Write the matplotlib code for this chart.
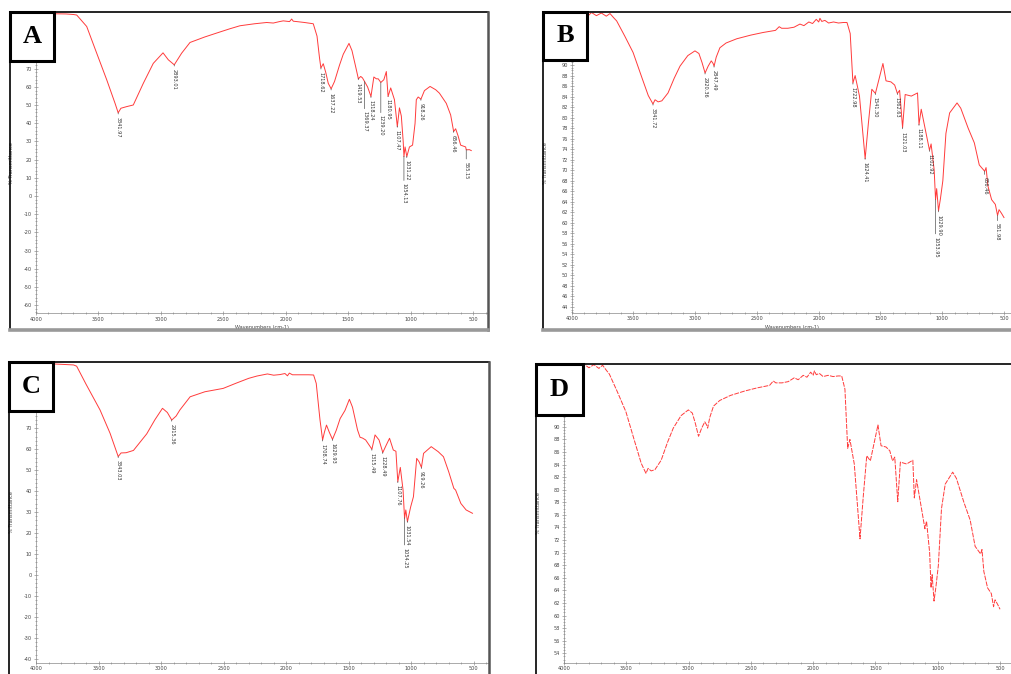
import numpy as np
import matplotlib
matplotlib.use('Agg')
from matplotlib import pyplot as plt
from matplotlib.lines import Line2D
from matplotlib.patches import Rectangle
from matplotlib.ticker import MultipleLocator

plt.rcParams['axes.unicode_minus'] = False

# ---- spectrum A ----
wn_a = [3990, 3900, 3850, 3760, 3700, 3674, 3594, 3514, 3434, 3367, 3342, 3320, 3274, 3221,
        3141, 3061, 2983, 2941, 2893, 2834, 2767, 2650, 2553, 2450, 2367, 2250, 2153, 2100,
        2050, 2020, 1970, 1953, 1940, 1912, 1850, 1780, 1750, 1730, 1719, 1700, 1680, 1660,
        1637, 1610, 1570, 1540, 1494, 1470, 1440, 1419, 1400, 1386, 1369, 1345, 1318, 1295,
        1275, 1260, 1239, 1215, 1195, 1181, 1160, 1130, 1107, 1090, 1075, 1060, 1054, 1045,
        1031, 1010, 985, 965, 955, 940, 918, 890, 845, 800, 770, 715, 680, 656, 640, 620,
        600, 560, 555, 530, 515]
t_a = [100.2, 100.5, 100.3, 100.2, 99.9, 99.6, 93.3, 78.6, 64, 51, 45.8, 48.3, 49.2, 50.1,
       62, 73, 78.8, 75, 72.2, 78.6, 84.5, 87.5, 89.7, 92, 93.7, 94.8, 95.5, 95.2,
       96.0, 96.4, 96.0, 97.4, 96.2, 96, 95.5, 94.8, 88, 76, 70.5, 72.8, 68, 62,
       59, 63, 72, 78, 84, 80, 71, 64.5, 65.8, 65, 63, 60, 54.8, 65.5,
       64.5, 64.5, 62.5, 64, 68.5, 54.8, 59.5, 53, 38.2, 48.5, 44, 30, 21.7, 27,
       21.7, 27, 28, 40, 53, 54.5, 53.3, 58, 60.3, 58.5, 56.6, 51, 44.6, 35.5, 37, 33,
       28, 27, 25.4, 25.5, 25]
peaks_a = ['3341.97', '2893.01', '1718.62', '1637.22', '1419.53', '1369.37', '1318.24',
           '1239.20', '1180.95', '1107.47', '1054.13', '1031.22', '918.26', '656.46', '555.15']

# ---- spectrum B (also shown unlabelled in D) ----
wn_b = [3990, 3960, 3930, 3900, 3870, 3840, 3800, 3760, 3720, 3690, 3660, 3636, 3570, 3503,
        3430, 3380, 3342, 3325, 3300, 3270, 3220, 3170, 3123, 3060, 3002, 2970, 2945, 2920,
        2895, 2870, 2855, 2847, 2830, 2800, 2750, 2664, 2550, 2450, 2350, 2320, 2300, 2250,
        2200, 2152, 2120, 2080, 2050, 2020, 2000, 1990, 1975, 1950, 1920, 1880, 1840, 1800,
        1771, 1745, 1723, 1705, 1670, 1624, 1598, 1570, 1541, 1480, 1455, 1415, 1385, 1363,
        1345, 1321, 1300, 1250, 1200, 1188, 1170, 1103, 1090, 1065, 1054, 1045, 1030, 1015,
        995, 970, 940, 880, 850, 790, 740, 700, 656, 645, 630, 600, 570, 552, 540, 520, 500]
t_b = [99.5, 100, 99.2, 99.8, 99.3, 100, 99.4, 99.9, 99.3, 99.8, 99.0, 98.4, 95.5, 92.4,
       87.5, 84.2, 82.6, 83.4, 83.0, 83.2, 84.7, 87.5, 89.8, 91.8, 92.7, 92.2, 90.5, 88.5,
       89.8, 90.8, 90.3, 89.8, 91.5, 93.3, 94.2, 95.0, 95.7, 96.2, 96.6, 97.3, 97.0, 97.0,
       97.2, 97.8, 97.5, 98.2, 97.9, 98.7, 98.2, 98.9, 98.3, 98.5, 98.0, 98.2, 98.0, 98.1,
       98.1, 96, 86.6, 88, 84.1, 72.2, 78.9, 85.4, 84.6, 90.3, 87, 86.8, 86.2, 84.6,
       85.2, 78.1, 84.4, 84.1, 84.7, 78.7, 81.6, 73.8, 75, 70, 64.4, 66.5, 62.3, 64.5,
       68, 77, 80.9, 82.8, 81.8, 78, 75.2, 71, 69.8, 70.5, 67, 64.4, 63.5, 61.4, 62.5, 61.8, 61]
peaks_b = ['3341.72', '2920.36', '2847.49', '1722.98', '1624.41', '1541.30', '1362.63',
           '1321.03', '1188.11', '1102.92', '1053.95', '1029.90', '656.46', '551.98']

# ---- spectrum C ----
wn_c = [3990, 3900, 3800, 3700, 3675, 3600, 3488, 3408, 3343, 3320, 3280, 3221, 3115, 3050,
        2989, 2950, 2915, 2880, 2850, 2768, 2650, 2504, 2400, 2300, 2234, 2150, 2100, 2050,
        2010, 1990, 1975, 1950, 1900, 1820, 1781, 1760, 1730, 1709, 1695, 1678, 1655, 1630,
        1600, 1569, 1530, 1495, 1470, 1430, 1410, 1390, 1365, 1315, 1300, 1290, 1258, 1228,
        1200, 1174, 1144, 1123, 1108, 1088, 1066, 1054, 1044, 1031, 1005, 983, 957, 938, 919,
        902, 841, 785, 743, 701, 660, 646, 604, 562, 511]
t_c = [100.5, 100.8, 100.5, 100.2, 99.6, 91, 78.7, 67.6, 56.5, 58.2, 58.3, 59.4, 67.3, 74,
       79.5, 77.5, 73.9, 75.8, 78.7, 85, 87.4, 89, 91.5, 93.8, 94.9, 95.9, 95.3, 95.6,
       96.1, 95.0, 96.3, 95.5, 95.5, 95.5, 95.4, 91.4, 74, 64.4, 68, 71.5, 68, 64.7,
       69, 74.6, 78.5, 83.8, 80, 69.2, 65.7, 65.3, 64.4, 60, 64, 66.8, 64.4, 58.4,
       62, 65.2, 59.6, 59, 44.5, 51.3, 40.5, 27, 31, 25.4, 32.5, 37.3, 55.6, 54, 51.3,
       58, 61.2, 58.8, 56.4, 49.2, 41.3, 40.5, 34.1, 31, 29.4]
peaks_c = ['3343.03', '2915.36', '1708.74', '1629.93', '1315.49', '1228.49', '1107.76',
           '1054.25', '1031.54', '919.26']

W, H = 1012, 674
RED = '#ff3b3b'


def fx(px):
    return px / W


def fy(py):
    return 1 - py / H


def frame(fig, x0, y0, x1, y1):
    fig.add_artist(Line2D([fx(x0), fx(x1)], [fy(y0), fy(y0)], color='black', lw=1.2, zorder=6))
    fig.add_artist(Line2D([fx(x0), fx(x0)], [fy(y0), fy(y1)], color='black', lw=1.2, zorder=6))
    fig.add_artist(Line2D([fx(x1), fx(x1)], [fy(y0), fy(y1)], color='#555555', lw=1.8, zorder=6))
    fig.add_artist(Line2D([fx(x0), fx(x1)], [fy(y1), fy(y1)], color='#999999', lw=2.6, zorder=6))


def letter(fig, ch, x0, y0, x1, y1):
    fig.add_artist(Rectangle((fx(x0), fy(y1)), fx(x1) - fx(x0), fy(y0) - fy(y1),
                             facecolor='white', edgecolor='black', lw=2.2, zorder=8))
    fig.text(fx((x0 + x1) / 2), fy((y0 + y1) / 2), ch, ha='center', va='center',
             fontsize=19, fontweight='bold', family='Liberation Serif', zorder=9)


def setup(ax, xlim, ylim, yminor, yticks, hide_above, ylab_x, xlab=True):
    ax.set_xlim(*xlim)
    ax.set_ylim(*ylim)
    ax.set_xticks([4000, 3500, 3000, 2500, 2000, 1500, 1000, 500])
    ax.xaxis.set_minor_locator(MultipleLocator(100))
    # tick labels under the letter box are not visible in the original
    ax.set_yticks(yticks)
    ax.set_yticklabels(['%d' % v if v <= hide_above else '' for v in yticks])
    ax.yaxis.set_minor_locator(MultipleLocator(yminor))
    ax.tick_params(which='both', direction='inout', colors='#777777', labelcolor='#444444',
                   labelsize=3.6, pad=1.2, width=0.4)
    ax.tick_params(which='major', length=3)
    ax.tick_params(which='minor', length=1.6)
    for s in ['top', 'right']:
        ax.spines[s].set_visible(False)
    for s in ['left', 'bottom']:
        ax.spines[s].set_color('#888888')
        ax.spines[s].set_linewidth(0.5)
    ax.set_ylabel('% Transmittance', fontsize=3.6, color='#444444')
    ax.yaxis.set_label_coords(ylab_x, 0.5)
    if xlab:
        ax.set_xlabel('Wavenumbers (cm-1)', fontsize=3.6, color='#444444')
        ax.xaxis.set_label_coords(0.5, -0.04)


def label_peaks(ax, wn, t, peaks, leader):
    x = np.array(wn[::-1], dtype=float)
    y = np.array(t[::-1], dtype=float)
    for p in peaks:
        v = float(p)
        yv = np.interp(v, x, y)
        drop = leader.get(p, 4) * 0.72
        ax.annotate(p, xy=(v, yv), xytext=(0, -drop), textcoords='offset points',
                    rotation=-90, ha='center', va='top', fontsize=3.6, color='#333333',
                    arrowprops=dict(arrowstyle='-', color='#555555', lw=0.5,
                                    shrinkA=0, shrinkB=0))


fig = plt.figure(figsize=(W / 100, H / 100), dpi=100)

# panel A
axA = fig.add_axes([fx(36), fy(313), fx(488) - fx(36), fy(12.5) - fy(313)])
axA.plot(wn_a, t_a, color=RED, lw=0.7)
setup(axA, (4000, 381), (-64.4, 101), 2, np.arange(-60, 101, 10), 70, -0.0487)
label_peaks(axA, wn_a, t_a, peaks_a, {'1369.37': 30, '1239.20': 33, '1054.13': 27,
                                       '555.15': 12, '1180.95': 3})

# panel B
axB = fig.add_axes([fx(571.7), fy(312.7), fx(1012) - fx(571.7), fy(12.5) - fy(312.7)])
axB.plot(wn_b, t_b, color=RED, lw=0.7)
setup(axB, (4000, 435), (42.9, 100), 0.5, np.arange(44, 101, 2), 90, -0.054)
label_peaks(axB, wn_b, t_b, peaks_b, {'1053.95': 37, '551.98': 8, '656.46': 6})

# panel C
axC = fig.add_axes([fx(36), fy(662.7), fx(489) - fx(36), fy(362) - fy(662.7)])
axC.plot(wn_c, t_c, color=RED, lw=0.7)
setup(axC, (4000, 379), (-41.9, 101.6), 2, np.arange(-40, 101, 10), 70, -0.049, xlab=False)
label_peaks(axC, wn_c, t_c, peaks_c, {'1054.25': 30})

# panel D
axD = fig.add_axes([fx(564), fy(662.7), fx(1012) - fx(564), fy(364) - fy(662.7)])
axD.plot(wn_b, t_b, color=RED, lw=0.7, linestyle=(0, (5, 1.2)))
setup(axD, (4000, 404), (52.5, 100), 0.5, np.arange(54, 101, 2), 90, -0.051, xlab=False)

frame(fig, 10, 12, 488, 329.5)
frame(fig, 543.5, 12, 1013, 329.5)
frame(fig, 9.5, 362, 489, 676)
frame(fig, 536.5, 364, 1013, 676)

letter(fig, 'A', 10, 12, 54, 61)
letter(fig, 'B', 543, 12, 587, 60)
letter(fig, 'C', 9, 362, 53, 411)
letter(fig, 'D', 536, 364, 583, 415)

fig.savefig('out.png', dpi=100)
